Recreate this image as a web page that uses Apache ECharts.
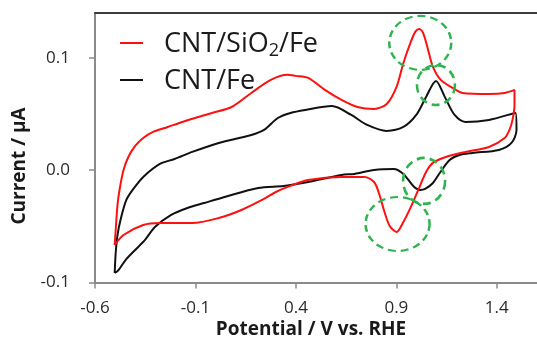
<!DOCTYPE html>
<html><head><meta charset="utf-8">
<script src="https://cdn.jsdelivr.net/npm/echarts@6/dist/echarts.min.js"></script>
<style>html,body{margin:0;padding:0;background:#fff}#c{width:537px;height:340px}</style>
</head><body><div id="c"></div>
<script>
// ---- data ----
const seriesNames = ['CNT/SiO2/Fe', 'CNT/Fe'];
const xTicks = [-0.6, -0.1, 0.4, 0.9, 1.4];
const yTicks = [-0.1, 0.0, 0.1];
const xTitle = 'Potential / V vs. RHE';
const yTitle = 'Current / μA';

const sio2Potential = [
  -0.502,-0.497,-0.488,-0.478,-0.458,-0.434,-0.400,-0.360,-0.311,-0.238,-0.165,-0.018,0.080,0.178,0.275,0.358,0.398,0.461,0.544,0.627,0.706,0.789,0.852,0.901,0.935,0.970,0.994,1.014,1.033,1.058,1.082,1.121,1.180,1.229,1.361,1.439,1.488,
  1.488,1.478,1.463,1.439,1.361,1.244,1.146,1.082,1.048,1.009,0.970,0.935,0.901,0.867,0.838,0.813,0.789,0.740,0.627,0.461,0.373,0.300,0.241,0.129,0.016,-0.116,-0.277,-0.360,-0.458,-0.502
];
const sio2Current = [
  -0.0666,-0.0532,-0.0310,-0.0176,0.0002,0.0118,0.0216,0.0287,0.0341,0.0385,0.0430,0.0510,0.0563,0.0688,0.0804,0.0849,0.0840,0.0822,0.0715,0.0626,0.0563,0.0546,0.0590,0.0742,0.0955,0.1134,0.1232,0.1258,0.1223,0.1071,0.0920,0.0804,0.0733,0.0688,0.0679,0.0688,0.0715,
  0.0581,0.0448,0.0359,0.0287,0.0207,0.0163,0.0118,0.0065,-0.0016,-0.0176,-0.0336,-0.0461,-0.0550,-0.0497,-0.0354,-0.0203,-0.0105,-0.0060,-0.0060,-0.0087,-0.0140,-0.0194,-0.0256,-0.0354,-0.0425,-0.0470,-0.0470,-0.0488,-0.0577,-0.0666
];
const fePotential = [
  -0.502,-0.497,-0.488,-0.473,-0.444,-0.409,-0.360,-0.277,-0.204,-0.116,0.016,0.178,0.241,0.310,0.373,0.446,0.579,0.676,0.755,0.852,0.935,0.999,1.048,1.097,1.141,1.190,1.244,1.361,1.493,
  1.498,1.473,1.410,1.278,1.214,1.165,1.116,1.082,1.043,1.019,0.984,0.935,0.887,0.789,0.691,0.627,0.461,0.339,0.212,0.045,-0.057,-0.140,-0.223,-0.302,-0.351,-0.400,-0.448,-0.483,-0.502
];
const feCurrent = [
  -0.0915,-0.0737,-0.0577,-0.0443,-0.0265,-0.0167,-0.0060,0.0056,0.0100,0.0163,0.0243,0.0314,0.0359,0.0465,0.0510,0.0537,0.0572,0.0492,0.0403,0.0350,0.0385,0.0492,0.0653,0.0795,0.0653,0.0492,0.0430,0.0448,0.0510,
  0.0359,0.0243,0.0180,0.0154,0.0136,0.0091,-0.0025,-0.0114,-0.0167,-0.0176,-0.0140,-0.0033,0.0011,0.0002,-0.0033,-0.0042,-0.0105,-0.0140,-0.0158,-0.0238,-0.0292,-0.0336,-0.0399,-0.0506,-0.0621,-0.0710,-0.0800,-0.0889,-0.0915
];
// highlighted peaks (dashed green circles), centres in data units
const peakPotential = [1.019, 1.097, 0.906, 1.038];
const peakCurrent = [0.1134, 0.0759, -0.0479, -0.0096];

// ---- rendering ----
const circleSize = [[31, 27], [19, 20], [32, 27], [21, 23]];
const FONT = '"Open Sans", "Liberation Sans", sans-serif';
const toPairs = (xs, ys) => xs.map((x, i) => [x, ys[i]]);

const chart = echarts.init(document.getElementById('c'), null, {renderer: 'canvas'});
const axisLine = {show: true, onZero: false, lineStyle: {color: '#8a8a8a', width: 2}};
chart.setOption({
  animation: false,
  backgroundColor: '#ffffff',
  grid: {left: 95, right: -9, top: 13, bottom: 57.5, containLabel: false},
  legend: {
    orient: 'vertical', left: 115, top: 26, itemGap: 8,
    itemWidth: 23, itemHeight: 2, icon: 'rect',
    data: seriesNames,
    formatter: n => n === 'CNT/SiO2/Fe' ? '{t|CNT/SiO}{s|2}{t|/Fe}' : '{t|' + n + '}',
    textStyle: {
      padding: [0, 0, 0, 16],
      rich: {
        t: {fontFamily: FONT, fontSize: 27, color: '#1a1a1a', lineHeight: 30, verticalAlign: 'bottom'},
        s: {fontFamily: FONT, fontSize: 18, color: '#1a1a1a', lineHeight: 20, verticalAlign: 'bottom', padding: [0, 0, -2, 0]}
      }
    }
  },
  xAxis: [{
    type: 'value', min: -0.6, max: 1.6, interval: 0.5, position: 'bottom',
    axisLine: axisLine, splitLine: {show: false},
    axisTick: {show: true, length: 6, lineStyle: {color: '#8a8a8a', width: 1.5}, customValues: xTicks},
    axisLabel: {customValues: xTicks, margin: 17, fontFamily: FONT, fontSize: 17, color: '#2a2a2a',
      formatter: v => v.toFixed(1)}
  }, {
    type: 'value', position: 'top', min: -0.6, max: 1.6,
    axisLine: {show: true, onZero: false, lineStyle: {color: '#3c3c3c', width: 2}},
    axisTick: {show: false}, axisLabel: {show: false}, splitLine: {show: false}
  }],
  yAxis: {
    type: 'value', min: -0.1, max: 0.14, interval: 0.1, position: 'left',
    axisLine: axisLine, splitLine: {show: false},
    axisTick: {show: true, length: 6, lineStyle: {color: '#8a8a8a', width: 1.5}, customValues: yTicks},
    axisLabel: {customValues: yTicks, margin: 25, fontFamily: FONT, fontSize: 17, color: '#2a2a2a',
      formatter: v => v.toFixed(1)}
  },
  graphic: [
    {type: 'text', x: 311, y: 330, style: {text: xTitle, font: 'bold 19px ' + FONT, fill: '#1a1a1a', textAlign: 'center', textVerticalAlign: 'middle'}},
    {type: 'text', rotation: Math.PI / 2, x: 20, y: 166, style: {text: yTitle, font: 'bold 19px ' + FONT, fill: '#1a1a1a', textAlign: 'center', textVerticalAlign: 'middle'}}
  ],
  series: [
    {name: seriesNames[0], type: 'line', data: toPairs(sio2Potential, sio2Current), showSymbol: false,
      smooth: 0.3, lineStyle: {color: '#ff1010', width: 2}, itemStyle: {color: '#ff1010'}, z: 3},
    {name: seriesNames[1], type: 'line', data: toPairs(fePotential, feCurrent), showSymbol: false,
      smooth: 0.3, lineStyle: {color: '#111111', width: 2}, itemStyle: {color: '#111111'}, z: 2},
    {type: 'custom', coordinateSystem: 'cartesian2d', silent: true, clip: false, z: 5,
      data: toPairs(peakPotential, peakCurrent),
      renderItem: (params, api) => {
        const p = api.coord([api.value(0), api.value(1)]);
        const s = circleSize[params.dataIndex];
        return {type: 'circle', x: p[0], y: p[1], scaleY: s[1] / s[0],
          shape: {cx: 0, cy: 0, r: s[0]},
          style: {fill: 'none', stroke: '#2db34f', lineWidth: 2.5, lineDash: [8, 5], strokeNoScale: true}};
      }}
  ]
});
</script></body></html>
